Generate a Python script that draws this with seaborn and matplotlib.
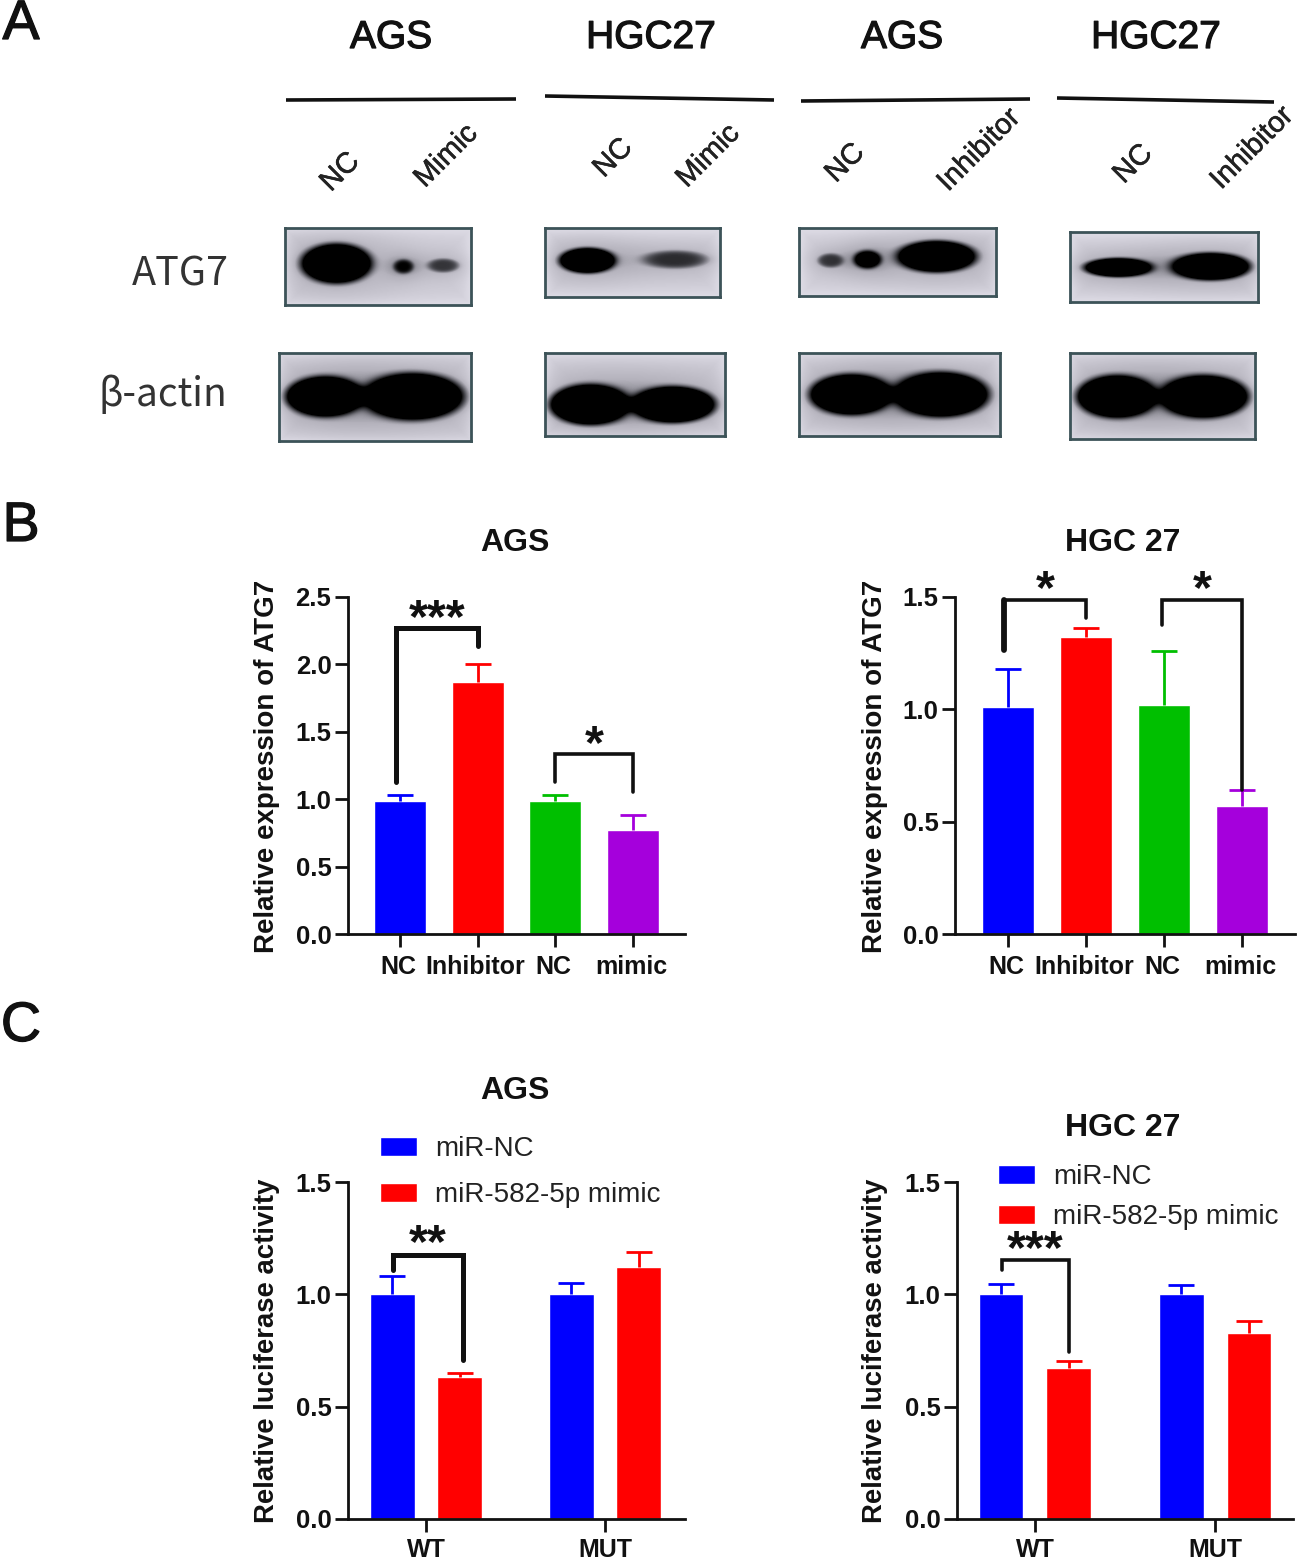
import numpy as np
import pandas as pd
import matplotlib
matplotlib.use("Agg")
import matplotlib.pyplot as plt
import matplotlib.patheffects as pe
from matplotlib.colors import LinearSegmentedColormap
from matplotlib.transforms import ScaledTranslation
import seaborn as sns

sns.set_theme(style="white")
plt.rcParams['font.family'] = ['Liberation Sans', 'DejaVu Sans']

W, H = 1299, 1560

# ---- data ----
b_labels = ["NC", "Inhibitor", "NC", "mimic"]
b_keys = ["NC-a", "Inhibitor", "NC-b", "mimic"]
b_colors = ["#0000ff", "#ff0000", "#00bf00", "#a500dc"]
b_ags_means = [0.99, 1.87, 0.99, 0.77]
b_ags_errs = [0.04, 0.13, 0.04, 0.11]
b_hgc_means = [1.01, 1.32, 1.02, 0.57]
b_hgc_errs = [0.17, 0.04, 0.24, 0.07]

c_groups = ["WT", "MUT"]
c_series = ["miR-NC", "miR-582-5p mimic"]
c_colors = ["#0000ff", "#ff0000"]
c_ags_nc = [1.00, 1.00]
c_ags_nc_errs = [0.08, 0.05]
c_ags_mimic = [0.63, 1.12]
c_ags_mimic_errs = [0.02, 0.07]
c_hgc_nc = [1.00, 1.00]
c_hgc_nc_errs = [0.045, 0.04]
c_hgc_mimic = [0.67, 0.83]
c_hgc_mimic_errs = [0.035, 0.05]

fig = plt.figure(figsize=(W / 100, H / 100), dpi=100, facecolor="white")


def axes_px(l, t, r, b, **kw):
    return fig.add_axes([l / W, 1 - b / H, (r - l) / W, (b - t) / H], **kw)


overlay = axes_px(0, 0, W, H)
overlay.set_xlim(0, W)
overlay.set_ylim(H, 0)
overlay.axis("off")
overlay.set_zorder(5)
overlay.patch.set_alpha(0)

# ---- panel A ----
blot_cmap = LinearSegmentedColormap.from_list("blot", ["#000000", "#55555c", "#b4b2bc", "#d8d6e0", "#eeeef4"])
# frame (left, top, right, bottom), bands (centre x, half width, centre y, half height, strength)
atg7_blots = [
    ((285, 228, 471, 305), [(336, 34, 263, 19, 2.5), (403, 10, 266, 7, 1.0), (443, 16, 265, 7, .7)]),
    ((545, 228, 720, 297), [(587, 27, 260, 12, 2.5), (675, 33, 259, 9, .75)]),
    ((799, 228, 996, 296), [(830, 13, 260, 7, .7), (867, 14, 259, 9, 1.5), (936, 38, 256, 15, 2.5)]),
    ((1070, 232, 1258, 302), [(1118, 33, 267, 9, 2.4), (1210, 38, 266, 13, 2.5)]),
]
actin_blots = [
    ((279, 353, 471, 441), [(325, 37, 396, 19, 3), (412, 48, 396, 22, 3)]),
    ((545, 353, 725, 436), [(590, 38, 404, 19, 3), (672, 40, 404, 17, 3)]),
    ((799, 353, 1000, 436), [(851, 39, 394, 19, 3), (940, 45, 394, 21, 3)]),
    ((1070, 353, 1255, 439), [(1117, 38, 396, 20, 3), (1203, 42, 396, 20, 3)]),
]


def draw_blot(frame, bands):
    l, t, r, b = frame
    yy, xx = np.mgrid[t:b, l:r].astype(float)
    edge = np.minimum.reduce([xx - l, r - xx, yy - t, b - yy])
    bg = 0.66 + 0.16 * np.exp(-edge / 9.0)
    dark = np.zeros_like(bg)
    halo = np.zeros_like(bg)
    for cx, hw, cy, hh, s in bands:
        d2 = ((xx - cx) / hw) ** 2 + ((yy - cy) / hh) ** 2
        dark += s * np.exp(-d2 ** 2.5)
        halo += 0.2 * min(s, 1) * np.exp(-d2 / 3.5)
    img = np.clip((bg - halo) * (1 - np.clip(dark, 0, 1)), 0, 1)
    ax = axes_px(l, t, r, b)
    sns.heatmap(img, cmap=blot_cmap, vmin=0, vmax=1, cbar=False, ax=ax,
                xticklabels=False, yticklabels=False, rasterized=True)
    ax.tick_params(left=False, bottom=False)
    for s in ax.spines.values():
        s.set_visible(True)
        s.set_color("#3c5358")
        s.set_linewidth(2.0)


for frame, bands in atg7_blots + actin_blots:
    draw_blot(frame, bands)

thick = [pe.withStroke(linewidth=0.9, foreground="#111111")]
overlay.text(180, 274, "ATG7", ha="center", va="center", fontsize=28.5, color="#333333",
             family=["Noto Sans CJK SC", "DejaVu Sans"])
overlay.text(163, 395, "β-actin", ha="center", va="center", fontsize=28, color="#333333",
             family=["Noto Sans CJK SC", "DejaVu Sans"])
for x, s in zip([391, 651, 902, 1156], ["AGS", "HGC27", "AGS", "HGC27"]):
    overlay.text(x, 38, s, ha="center", va="center", fontsize=28, color="#111111", path_effects=thick)
for (x0, y0, x1, y1) in [(286, 100, 516, 99), (545, 96, 774, 100), (801, 101, 1030, 99), (1057, 98, 1274, 102)]:
    overlay.plot([x0, x1], [y0, y1], color="#111111", lw=2.6, solid_capstyle="butt")
for x, y, s in [(340, 172, "NC"), (446, 156, "Mimic"), (613, 158, "NC"), (708, 156, "Mimic"),
                (845, 163, "NC"), (979, 150, "Inhibitor"), (1133, 164, "NC"), (1252, 148, "Inhibitor")]:
    overlay.text(x, y, s, rotation=45, ha="center", va="center", rotation_mode="anchor",
                 fontsize=21, color="#222222", path_effects=[pe.withStroke(linewidth=0.4, foreground="#222222")])
for y, s in [(25, "A"), (527, "B"), (1027, "C")]:
    overlay.text(21, y, s, ha="center", va="center", fontsize=40, color="#111111", path_effects=thick)


def style_axes(ax, xlim, ymax, yticks, xticks, xlabels, xpad, xshift):
    ax.set_xlim(*xlim)
    ax.set_ylim(0, ymax)
    ax.set_yticks(yticks)
    ax.set_yticklabels([f"{v:.1f}" for v in yticks], fontsize=18.5, fontweight="bold", color="#111111")
    ax.set_xticks(xticks)
    ax.set_xticklabels(xlabels, fontsize=18, fontweight="bold", color="#111111")
    ax.tick_params(axis="both", direction="out", length=9.4, width=2.0, color="#111111",
                   left=True, bottom=True)
    ax.tick_params(axis="y", pad=2.5)
    ax.tick_params(axis="x", pad=xpad)
    for lab in ax.get_xticklabels():
        lab.set_transform(lab.get_transform() + ScaledTranslation(xshift / 100, 0, fig.dpi_scale_trans))
    ax.set_xlabel("")
    ax.set_ylabel("")
    sns.despine(ax=ax)
    for s in ("left", "bottom"):
        ax.spines[s].set_linewidth(2.0)
        ax.spines[s].set_color("#111111")
    ax.patch.set_alpha(0)
    ax.grid(False)


def upper_err(ax, xs, vals, errs, color):
    _, caps, _ = ax.errorbar(xs, vals, yerr=[np.zeros(len(vals)), errs], fmt="none", ecolor=color,
                             elinewidth=2.0, capsize=9.5, capthick=2.0, zorder=1)
    caps[0].set_visible(False)


def bracket(ax, x0, x1, top, y0, y1, lw, stars, star_y, left_lw=None):
    ax.plot([x0, x0, x1, x1], [y0, top, top, y1], color="#111111", lw=lw, clip_on=False,
            solid_joinstyle="miter", solid_capstyle="round")
    if left_lw:
        ax.plot([x0, x0], [y0, top], color="#111111", lw=left_lw, clip_on=False, solid_capstyle="round")
    ax.text((x0 + x1) / 2, star_y, stars, ha="center", va="center", fontsize=35,
            fontweight="bold", color="#111111", clip_on=False)


# ---- panel B ----
def panel_b(box, means, errs, title, title_x):
    ax = axes_px(*box)
    df = pd.DataFrame({"group": b_keys, "value": means})
    sns.barplot(data=df, x="group", y="value", hue="group", order=b_keys, hue_order=b_keys,
                palette=b_colors, width=0.67, saturation=1, errorbar=None, legend=False, ax=ax)
    for i, (m, e, c) in enumerate(zip(means, errs, b_colors)):
        upper_err(ax, [i], [m], [e], c)
    overlay.text(title_x, 543, title, ha="center", va="center", fontsize=23, fontweight="bold",
                 color="#111111")
    return ax


ax1 = panel_b((348, 597, 685, 934), b_ags_means, b_ags_errs, "AGS", 515)
style_axes(ax1, (-0.669, 3.668), 2.5, [0, .5, 1, 1.5, 2, 2.5], range(4), b_labels, 6, -2)
bracket(ax1, -0.05, 1.0, 2.27, 1.13, 2.14, 3.6, "***", 2.33)
bracket(ax1, 2.0, 3.0, 1.335, 1.13, 1.05, 2.6, "*", 1.40)
overlay.text(267, 766, "Relative expression of ATG7", rotation=90, ha="center", va="center",
             fontsize=20, fontweight="bold", color="#111111")

ax2 = panel_b((955, 597, 1295, 934), b_hgc_means, b_hgc_errs, "HGC 27", 1123)
style_axes(ax2, (-0.68, 3.68), 1.5, [0, .5, 1, 1.5], range(4), b_labels, 6, -2)
bracket(ax2, -0.05, 1.0, 1.486, 1.264, 1.406, 2.6, "*", 1.53, left_lw=4.2)
bracket(ax2, 1.97, 3.0, 1.486, 1.375, 0.64, 2.6, "*", 1.53)
overlay.text(875, 766, "Relative expression of ATG7", rotation=90, ha="center", va="center",
             fontsize=20, fontweight="bold", color="#111111")


# ---- panel C ----
def panel_c(box, xlim, nc, nc_errs, mimic, mimic_errs, title, title_xy, legend_xy, labelspacing):
    ax = axes_px(*box)
    df = pd.DataFrame({
        "group": c_groups * 2,
        "series": [c_series[0]] * 2 + [c_series[1]] * 2,
        "value": list(nc) + list(mimic),
    })
    sns.barplot(data=df, x="group", y="value", hue="series", order=c_groups, hue_order=c_series,
                palette=c_colors, width=0.75, gap=0.34, saturation=1, errorbar=None, ax=ax)
    for cont, vals, errs, col in zip(ax.containers, [nc, mimic], [nc_errs, mimic_errs], c_colors):
        xs = [p.get_x() + p.get_width() / 2 for p in cont]
        upper_err(ax, xs, vals, errs, col)
    handles, labels = ax.get_legend_handles_labels()
    style_axes(ax, xlim, 1.5, [0, .5, 1, 1.5], range(2), c_groups, 4, 0)
    leg = fig.legend(handles, labels, loc="upper left",
                     bbox_to_anchor=(legend_xy[0] / W, 1 - legend_xy[1] / H),
                     frameon=False, fontsize=20, borderpad=0, borderaxespad=0,
                     handlelength=1.33, handleheight=0.65, handletextpad=0.65,
                     labelspacing=labelspacing, labelcolor="#222222")
    leg.set_zorder(6)
    if ax.get_legend() is not None:
        ax.get_legend().remove()
    overlay.text(title_xy[0], title_xy[1], title, ha="center", va="center", fontsize=23,
                 fontweight="bold", color="#111111")
    return ax


ax3 = panel_c((348, 1182, 685, 1519), (-0.436, 1.447), c_ags_nc, c_ags_nc_errs, c_ags_mimic,
              c_ags_mimic_errs, "AGS", (515, 1091), (380, 1136), 0.72)
bracket(ax3, -0.184, 0.207, 1.175, 1.108, 0.708, 3.6, "**", 1.22)
overlay.text(267, 1351, "Relative luciferase activity", rotation=90, ha="center", va="center",
             fontsize=19.8, fontweight="bold", color="#111111")

ax4 = panel_c((957, 1182, 1293, 1519), (-0.433, 1.433), c_hgc_nc, c_hgc_nc_errs, c_hgc_mimic,
              c_hgc_mimic_errs, "HGC 27", (1123, 1128), (998, 1164), 0.52)
bracket(ax4, -0.183, 0.189, 1.153, 1.108, 0.743, 2.6, "***", 1.195)
overlay.text(875, 1351, "Relative luciferase activity", rotation=90, ha="center", va="center",
             fontsize=19.8, fontweight="bold", color="#111111")

fig.savefig("out.png", dpi=100, facecolor="white")
